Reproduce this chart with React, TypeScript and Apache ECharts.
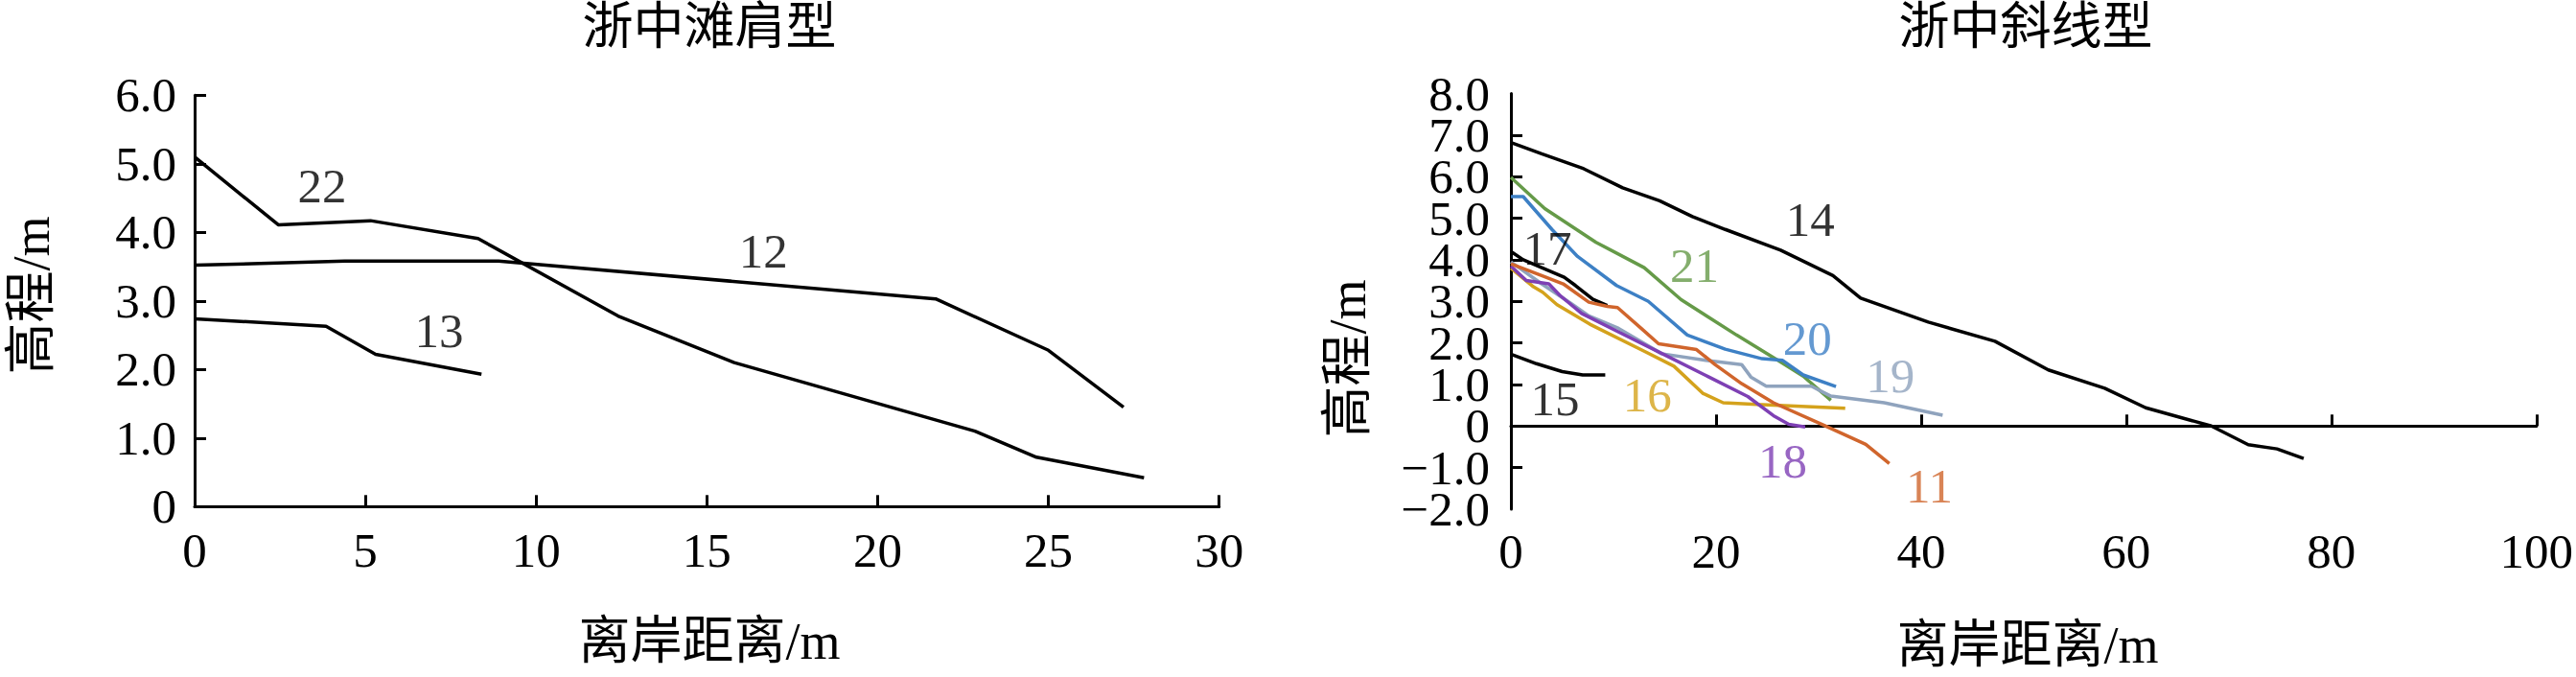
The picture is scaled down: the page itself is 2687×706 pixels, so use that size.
import React, { useEffect, useRef } from "react";
import * as echarts from "echarts";

// ---- Left panel: 浙中滩肩型 (x: 离岸距离/m, y: 高程/m)
const LEFT_X_TICKS = [0, 5, 10, 15, 20, 25, 30];
const LEFT_Y_TICKS = [0, 1, 2, 3, 4, 5, 6];
const P22 = [[0, 5.1], [2.45, 4.11], [5.15, 4.17], [8.3, 3.91], [12.4, 2.78], [15.8, 2.1], [22.85, 1.1], [24.65, 0.72], [27.8, 0.42]];
const P12 = [[0, 3.52], [4.4, 3.58], [8.9, 3.58], [21.7, 3.03], [25, 2.28], [27.2, 1.45]];
const P13 = [[0, 2.74], [3.85, 2.63], [5.3, 2.22], [8.4, 1.93]];

// ---- Right panel: 浙中斜线型
const RIGHT_X_TICKS = [0, 20, 40, 60, 80, 100];
const RIGHT_Y_TICKS = [-2, -1, 0, 1, 2, 3, 4, 5, 6, 7, 8];
const P14 = [[0, 6.82], [3, 6.55], [7.1, 6.19], [10.9, 5.73], [14.5, 5.42], [17.7, 5.04], [20.9, 4.73], [26.3, 4.23], [31.4, 3.62], [34.1, 3.08], [40.7, 2.5], [47.2, 2.04], [52.4, 1.35], [57.9, 0.91], [61.9, 0.44], [68.3, 0.0], [71.9, -0.45], [74.7, -0.55], [77.3, -0.78]];
const P17 = [[0, 4.2], [1.2, 4.0], [5.2, 3.58], [6.3, 3.38], [8, 3.05], [9.4, 2.9]];
const P15 = [[0, 1.73], [2.5, 1.5], [5, 1.31], [7, 1.23], [9.2, 1.23]];
const P21 = [[0, 5.98], [3.3, 5.23], [8.3, 4.42], [13, 3.81], [16.6, 3.04], [22, 2.19], [26.3, 1.54], [28.5, 1.2], [31.2, 0.62]];
const P20 = [[0, 5.52], [1.2, 5.52], [4, 4.73], [6.5, 4.08], [10.3, 3.38], [13.4, 3.0], [17.2, 2.19], [20.9, 1.85], [24.5, 1.62], [26.5, 1.58], [28.5, 1.23], [31.7, 0.95]];
const P19 = [[0, 3.95], [3, 3.42], [5.8, 2.96], [7.6, 2.65], [10.5, 2.35], [14.7, 1.74], [19, 1.58], [22.5, 1.48], [23.4, 1.18], [24.9, 0.96], [29.3, 0.96], [31.2, 0.72], [36.4, 0.56], [42.1, 0.26]];
const P16 = [[0, 3.8], [2.2, 3.35], [3.1, 3.22], [4.5, 2.92], [7.7, 2.45], [13, 1.8], [15.9, 1.44], [18.7, 0.79], [20.7, 0.56], [24, 0.52], [32.6, 0.43]];
const P18 = [[0, 3.85], [1.5, 3.5], [3.7, 3.42], [4.75, 3.15], [6.9, 2.71], [10.6, 2.25], [15, 1.71], [19.3, 1.18], [23.1, 0.71], [25.6, 0.25], [27.1, 0.04], [28.7, -0.02]];
const P11 = [[0, 3.9], [3, 3.62], [5.1, 3.42], [7.6, 2.98], [9.4, 2.88], [10.4, 2.85], [12.7, 2.35], [14.4, 1.98], [18.1, 1.84], [19.9, 1.48], [22.5, 1.02], [25.6, 0.56], [30.5, 0.02], [34.6, -0.44], [36.9, -0.9]];

// profile number labels (anchor in data coordinates)
const LEFT_LABELS = [
  { name: "22", at: [3.73, 4.67] },
  { name: "12", at: [16.65, 3.72] },
  { name: "13", at: [7.16, 2.56] },
];
const RIGHT_LABELS = [
  { name: "14", at: [29.2, 4.97], c: "k" },
  { name: "17", at: [3.55, 4.27], c: "k" },
  { name: "21", at: [17.9, 3.86], c: "green" },
  { name: "20", at: [28.9, 2.1], c: "blue" },
  { name: "19", at: [37.0, 1.21], c: "gray" },
  { name: "15", at: [4.3, 0.65], c: "k" },
  { name: "16", at: [13.3, 0.75], c: "gold" },
  { name: "18", at: [26.5, -0.84], c: "purple" },
  { name: "11", at: [40.8, -1.44], c: "orange" },
];

const COLORS: Record<string, string> = {
  k: "#000000",
  green: "#659a48",
  blue: "#3d80c5",
  gray: "#8fa3bd",
  gold: "#d4a21c",
  purple: "#7e40b4",
  orange: "#d0652c",
};

const FONT = "'Liberation Serif', 'Times New Roman', 'Noto Sans CJK SC', serif";

function yFmt(v: number) {
  if (Math.abs(v) < 1e-9) return "0";
  return v < 0 ? "\u2212" + Math.abs(v).toFixed(1) : v.toFixed(1);
}

const R_MIN = RIGHT_Y_TICKS[0];
const R_MAX = RIGHT_Y_TICKS[RIGHT_Y_TICKS.length - 1];

export default function App() {
  const ref = useRef<HTMLDivElement>(null);
  useEffect(() => {
    document.body.style.margin = "0";
    const chart = echarts.init(ref.current!, null, { renderer: "svg" });

    const axisLine = { show: true, onZero: true, lineStyle: { color: "#000", width: 3 } };
    const tick = { show: true, inside: true, length: 12, lineStyle: { color: "#000", width: 3 } };
    const lbl = { color: "#000", fontSize: 51, fontFamily: FONT, showMinLabel: true, showMaxLabel: true };

    const line = (data: number[][], color: string, xi: number, yi: number, w = 3.5) => ({
      type: "line",
      data,
      xAxisIndex: xi,
      yAxisIndex: yi,
      symbol: "none",
      showSymbol: false,
      lineStyle: { color, width: w },
      itemStyle: { color },
      z: 3,
    });

    const labelSeries = (items: any[], xi: number, yi: number) => ({
      type: "scatter",
      xAxisIndex: xi,
      yAxisIndex: yi,
      symbolSize: 1,
      itemStyle: { color: "rgba(0,0,0,0)" },
      z: 5,
      label: {
        show: true,
        position: "inside",
        formatter: "{b}",
        fontSize: 51,
        fontFamily: FONT,
      },
      data: items.map((it) => ({
        name: it.name,
        value: it.at,
        label: { color: COLORS[it.c || "k"] },
      })),
    });

    const text = (t: string, x: number, y: number, size: number, rot = 0) => ({
      type: "text",
      x,
      y,
      rotation: rot,
      style: {
        text: t,
        fontSize: size,
        fontFamily: FONT,
        fill: "#000",
        align: "center",
        verticalAlign: "middle",
        textAlign: "center",
        textVerticalAlign: "middle",
      },
    });

    chart.setOption({
      animation: false,
      backgroundColor: "#fff",
      grid: [
        { left: 203, top: 99.3, width: 1068.7, height: 429, containLabel: false },
        { left: 1576, top: 97.5, width: 1072, height: 433.5, containLabel: false },
      ],
      xAxis: [
        {
          type: "value", gridIndex: 0, min: LEFT_X_TICKS[0], max: LEFT_X_TICKS[LEFT_X_TICKS.length - 1], interval: 5,
          axisLine, axisTick: tick, splitLine: { show: false },
          axisLabel: { ...lbl, margin: 20 },
        },
        {
          type: "value", gridIndex: 1, position: "bottom", min: RIGHT_X_TICKS[0], max: RIGHT_X_TICKS[RIGHT_X_TICKS.length - 1], interval: 20,
          axisLine: { show: false, onZero: false }, axisTick: { show: false }, splitLine: { show: false },
          axisLabel: { ...lbl, margin: 18 },
        },
        {
          type: "value", gridIndex: 1, position: "bottom", min: RIGHT_X_TICKS[0], max: RIGHT_X_TICKS[RIGHT_X_TICKS.length - 1], interval: 20,
          axisLine, axisTick: tick, splitLine: { show: false },
          axisLabel: { show: false },
        },
      ],
      yAxis: [
        {
          type: "value", gridIndex: 0, min: LEFT_Y_TICKS[0], max: LEFT_Y_TICKS[LEFT_Y_TICKS.length - 1], interval: 1,
          axisLine, axisTick: tick, splitLine: { show: false },
          axisLabel: { ...lbl, margin: 19, formatter: yFmt },
        },
        {
          // right panel: axis line, ticks and inner labels (−1.0 … 7.0)
          type: "value", gridIndex: 1, position: "left", min: R_MIN, max: R_MAX, interval: 1,
          axisLine: { ...axisLine, onZero: false }, axisTick: tick, splitLine: { show: false },
          axisLabel: { ...lbl, margin: 22, lineHeight: 42, showMinLabel: false, showMaxLabel: false, formatter: yFmt },
        },
        {
          // right panel: the end labels (−2.0 and 8.0)
          type: "value", gridIndex: 1, position: "left", min: R_MIN, max: R_MAX, interval: 1,
          axisLine: { show: false, onZero: false }, axisTick: { show: false }, splitLine: { show: false },
          axisLabel: {
            ...lbl, margin: 22, lineHeight: 42, showMinLabel: true, showMaxLabel: true,
            formatter: (v: number) => (v === R_MIN || v === R_MAX ? yFmt(v) : ""),
          },
        },
      ],
      series: [
        line(P22, COLORS.k, 0, 0),
        line(P12, COLORS.k, 0, 0),
        line(P13, COLORS.k, 0, 0),
        labelSeries(LEFT_LABELS, 0, 0),
        line(P14, COLORS.k, 1, 1),
        line(P17, COLORS.k, 1, 1),
        line(P15, COLORS.k, 1, 1),
        line(P21, COLORS.green, 1, 1),
        line(P20, COLORS.blue, 1, 1),
        line(P19, COLORS.gray, 1, 1),
        line(P16, COLORS.gold, 1, 1),
        line(P18, COLORS.purple, 1, 1),
        line(P11, COLORS.orange, 1, 1),
        labelSeries(RIGHT_LABELS, 1, 1),
      ],
      graphic: [
        text("浙中滩肩型", 740, 28, 53),
        text("浙中斜线型", 2113, 28, 53),
        text("离岸距离/m", 740, 669, 54),
        text("离岸距离/m", 2115, 673, 54),
        text("高程/m", 33, 308, 54, Math.PI / 2),
        text("高程/m", 1406, 374, 54, Math.PI / 2),
      ],
    });

    return () => chart.dispose();
  }, []);

  return (
    <div
      ref={ref}
      style={{ position: "fixed", left: 0, top: 0, width: 2687, height: 706, background: "#fff" }}
    />
  );
}
